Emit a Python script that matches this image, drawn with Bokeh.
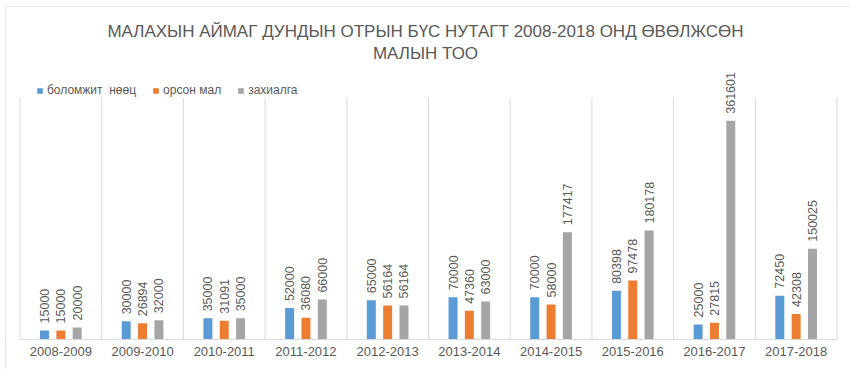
import math
from bokeh.plotting import figure
from bokeh.models import (ColumnDataSource, FactorRange, Range1d, Legend, LegendItem,
                          LabelSet, Label)
from bokeh.transform import dodge
from bokeh.core.properties import value
from bokeh.embed import file_html
from bokeh.resources import INLINE

categories = ["2008-2009", "2009-2010", "2010-2011", "2011-2012", "2012-2013",
              "2013-2014", "2014-2015", "2015-2016", "2016-2017", "2017-2018"]
bolomzhit = [15000, 30000, 35000, 52000, 65000, 70000, 70000, 80398, 25000, 72450]
orson = [15000, 26894, 31091, 36080, 56164, 47360, 58000, 97478, 27815, 42308]
zakhialga = [20000, 32000, 35000, 66000, 56164, 63000, 177417, 180178, 361601, 150025]
series_names = ["боломжит  нөөц", "орсон мал", "захиалга"]
colors = ["#5B9BD5", "#ED7D31", "#A5A5A5"]
title_lines = ["МАЛАХЫН АЙМАГ ДУНДЫН ОТРЫН БҮС НУТАГТ 2008-2018 ОНД ӨВӨЛЖСӨН", "МАЛЫН ТОО"]

FONT = "Liberation Sans"
TXT = "#595959"
GRID = "#D9D9D9"

Y_MAX = 400000          # top of the category separators
PLOT_H = 333            # frame height in px
SCALE_H = 242           # px that Y_MAX spans

src = ColumnDataSource(dict(
    cat=categories,
    s0=bolomzhit, s1=orson, s2=zakhialga,
    l0=[str(v) for v in bolomzhit], l1=[str(v) for v in orson], l2=[str(v) for v in zakhialga],
))
last_src = ColumnDataSource(dict(cat=[categories[-1]]))

p = figure(width=846, height=363,
           x_range=FactorRange(factors=categories, range_padding=0.0355),
           y_range=Range1d(0, Y_MAX * PLOT_H / SCALE_H),
           output_backend="svg", toolbar_location=None, y_axis_location=None,
           min_border_left=0, min_border_right=0, min_border_top=0, min_border_bottom=30)
p.title = None
p.outline_line_color = None
p.background_fill_color = "white"
p.border_fill_color = "white"
p.xgrid.visible = False
p.ygrid.visible = False
p.styles = {"margin-left": "5px", "margin-top": "6px",
            "outline": "1px solid #D9D9D9", "outline-offset": "-1px"}

# category separators
p.segment(x0=dodge("cat", -0.5, range=p.x_range), x1=dodge("cat", -0.5, range=p.x_range),
          y0=0, y1=Y_MAX, source=src, line_color=GRID, line_width=1)
p.segment(x0=dodge("cat", 0.5, range=p.x_range), x1=dodge("cat", 0.5, range=p.x_range),
          y0=0, y1=Y_MAX, source=last_src, line_color=GRID, line_width=1)

offsets = [-0.2, 0.0, 0.2]
renderers = []
for i, (off, col) in enumerate(zip(offsets, colors)):
    r = p.vbar(x=dodge("cat", off, range=p.x_range), top="s%d" % i, width=0.11,
               source=src, fill_color=col, line_color=None)
    renderers.append(r)
    ls = LabelSet(x=dodge("cat", off, range=p.x_range), y="s%d" % i, text="l%d" % i,
                  source=src, angle=math.pi / 2, text_align="left", text_baseline="middle",
                  y_offset=7, text_font=value(FONT), text_font_size="12.5px", text_color=TXT)
    p.add_layout(ls)

p.xaxis.bounds = (0, len(categories))
p.xaxis.axis_line_color = GRID
p.xaxis.major_tick_line_color = None
p.xaxis.major_tick_out = 0
p.xaxis.major_tick_in = 0
p.xaxis.minor_tick_line_color = None
p.xaxis.major_label_text_font = FONT
p.xaxis.major_label_text_font_size = "13px"
p.xaxis.major_label_text_color = TXT
p.xaxis.major_label_standoff = 7

legend = Legend(items=[LegendItem(label=n, renderers=[r]) for n, r in zip(series_names, renderers)],
                orientation="horizontal", location=(31, 242), padding=0, margin=0,
                spacing=16, label_standoff=4, glyph_width=7, glyph_height=7,
                label_height=14, label_text_font=FONT, label_text_font_size="12px",
                label_text_color=TXT, border_line_color=None, background_fill_alpha=0)
p.add_layout(legend)

for txt, yy in zip(title_lines, [308, 286]):
    p.add_layout(Label(x=420, y=yy, x_units="screen", y_units="screen", text=txt,
                       text_align="center", text_baseline="alphabetic",
                       text_font=FONT, text_font_size="17px", text_color=TXT))

open("out.html", "w").write(file_html(p, INLINE))
